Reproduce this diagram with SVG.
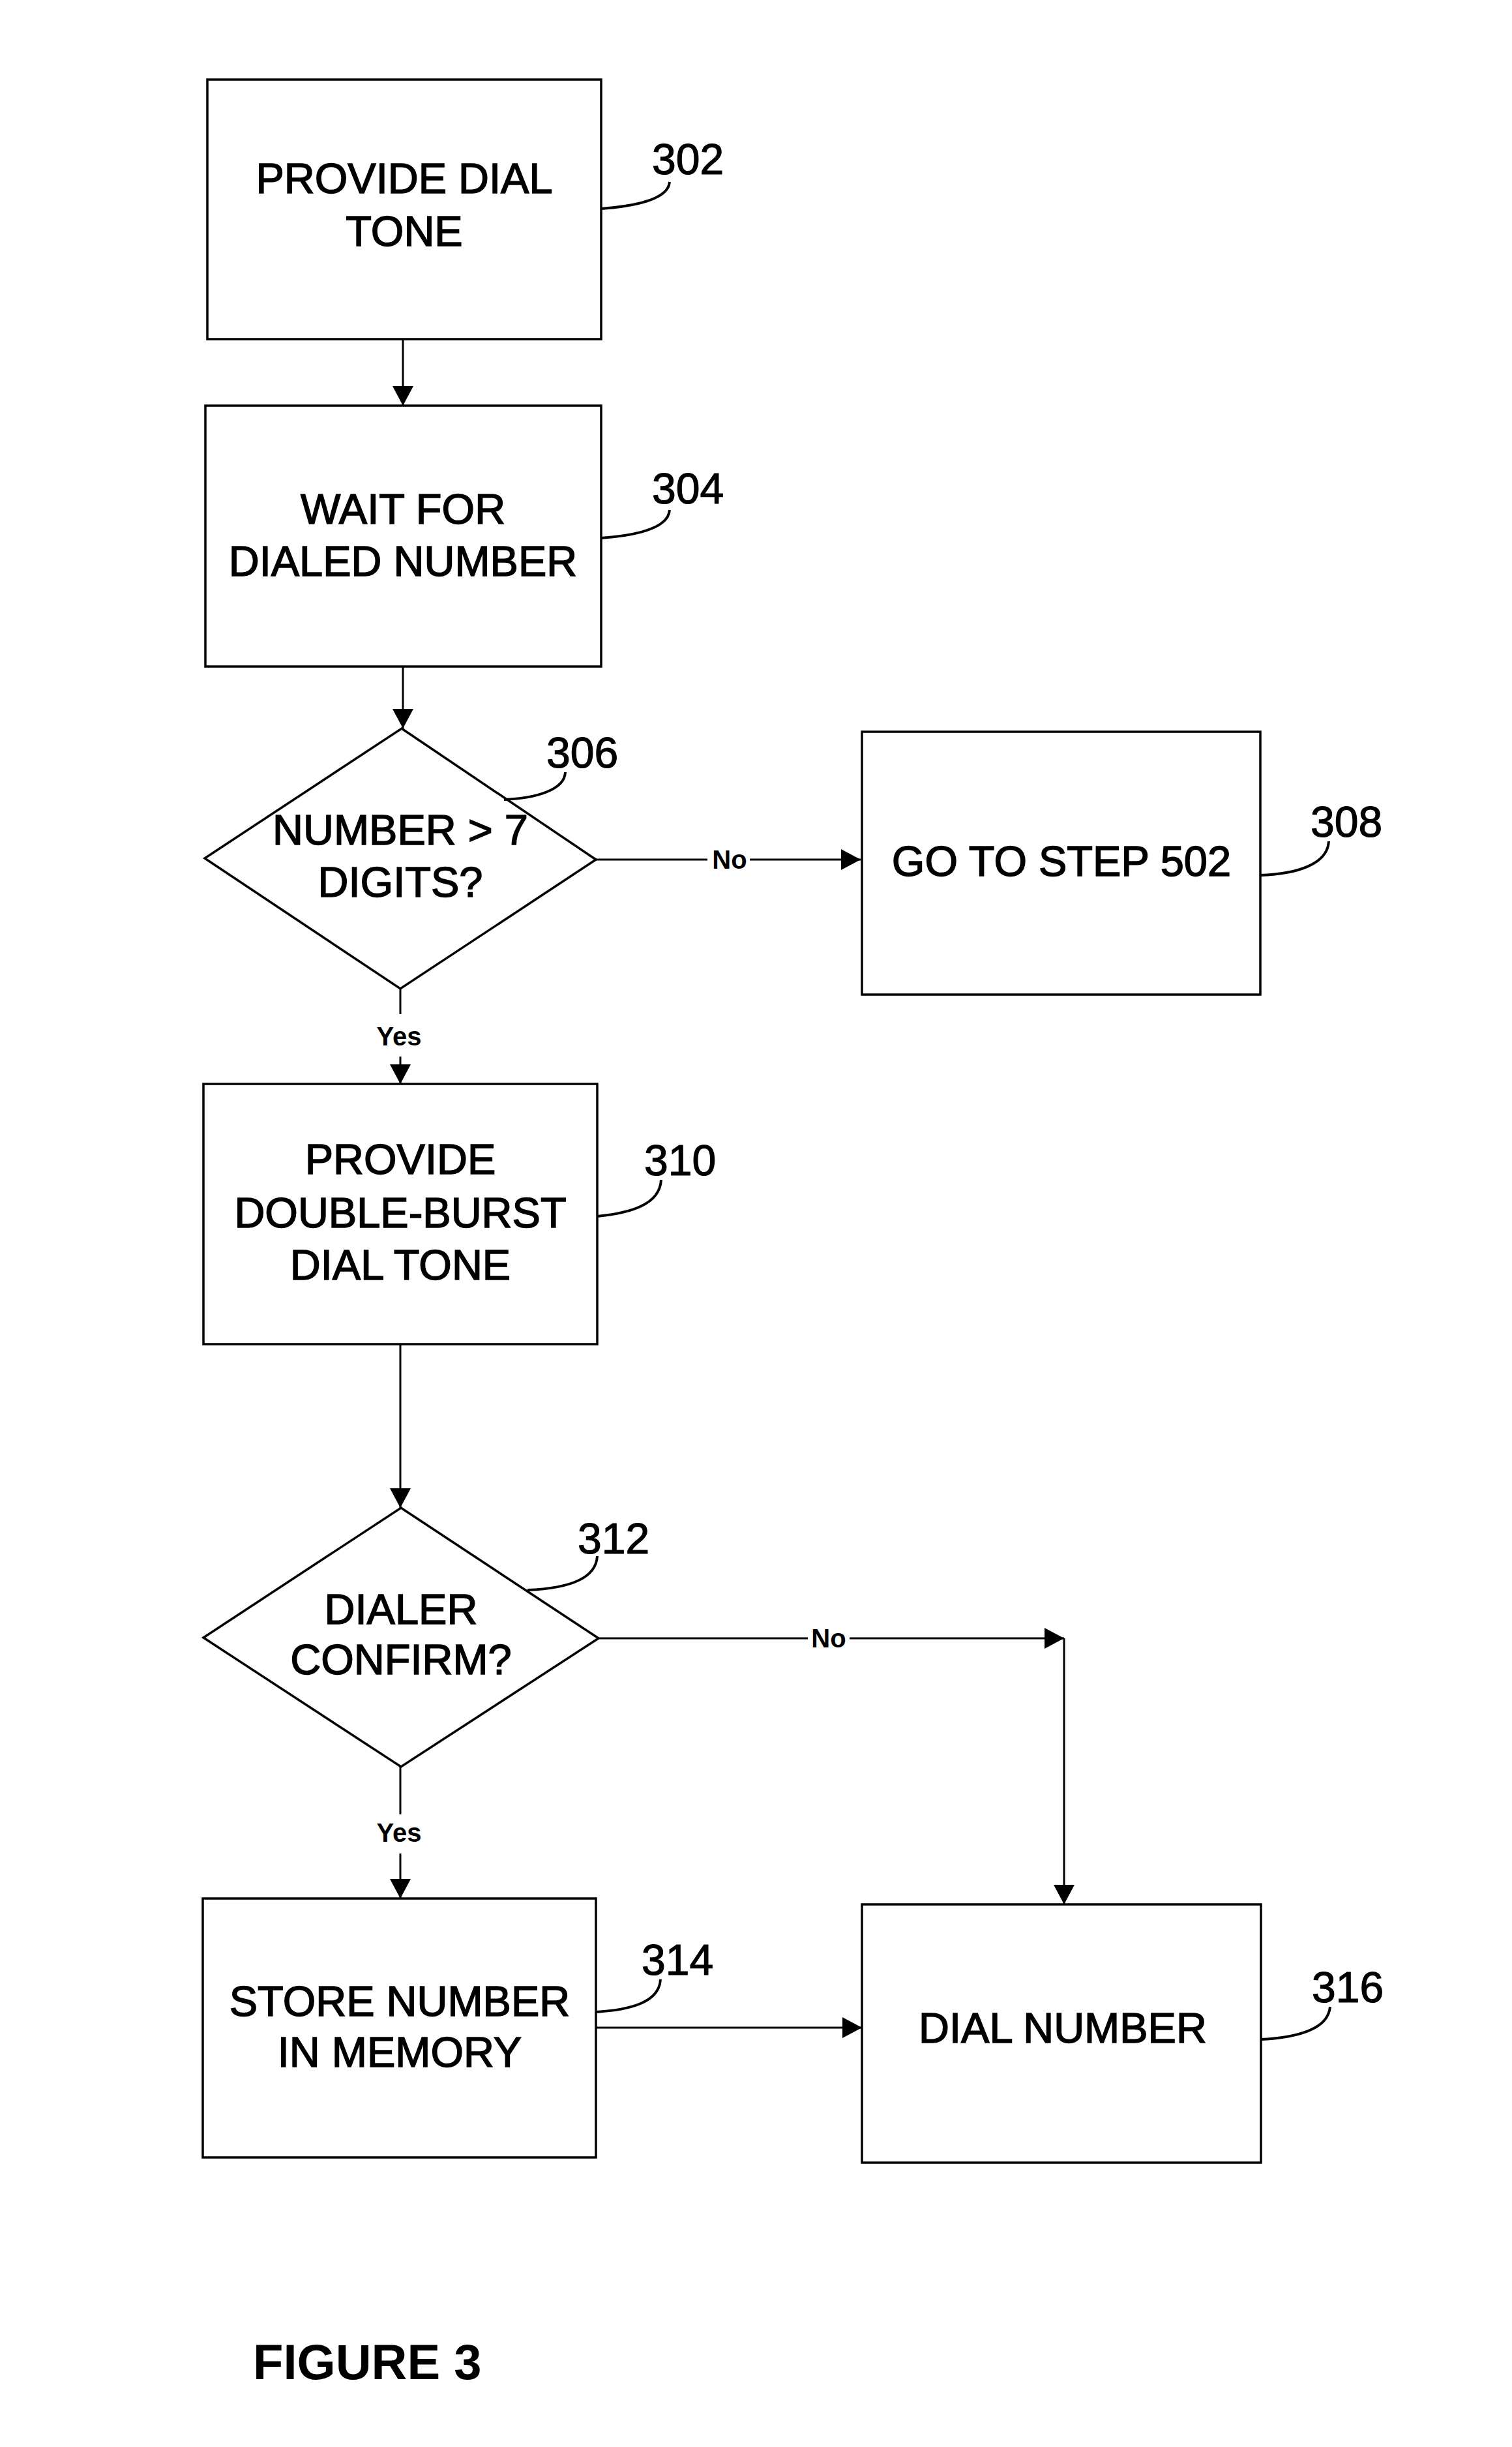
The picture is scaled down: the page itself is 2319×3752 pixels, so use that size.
<svg xmlns="http://www.w3.org/2000/svg" width="2319" height="3752" viewBox="0 0 2319 3752">
<style>
.shape{fill:#fff;stroke:#000;stroke-width:3.5}
.t{font-family:"Liberation Sans",Arial,sans-serif;font-size:65px;fill:#000;stroke:#000;stroke-width:1.5;text-anchor:middle}
.ref{font-family:"Liberation Sans",Arial,sans-serif;font-size:66px;fill:#000;stroke:#000;stroke-width:1.2}
.yn{font-family:"Liberation Sans",Arial,sans-serif;font-size:40px;font-weight:bold;fill:#000;text-anchor:middle}
.fig{font-family:"Liberation Sans",Arial,sans-serif;font-size:76px;font-weight:bold;fill:#000}
.c{fill:none;stroke:#000;stroke-width:3}
.lead{fill:none;stroke:#000;stroke-width:4}
</style>
<defs>
<marker id="ah" viewBox="0 0 30 32" refX="30" refY="16" markerWidth="30" markerHeight="32" markerUnits="userSpaceOnUse" orient="auto">
<path d="M0,0 L30,16 L0,32 z" fill="#000"/>
</marker>
</defs>
<rect width="2319" height="3752" fill="#fff"/>

<g id="connectors">
<path class="c" d="M618,520 V622" marker-end="url(#ah)"/>
<path class="c" d="M618,1022 V1117" marker-end="url(#ah)"/>
<path class="c" d="M914,1318 H1085"/>
<path class="c" d="M1150,1318 H1320" marker-end="url(#ah)"/>
<path class="c" d="M614,1516 V1555"/>
<path class="c" d="M614,1620 V1662" marker-end="url(#ah)"/>
<path class="c" d="M614,2061 V2312" marker-end="url(#ah)"/>
<path class="c" d="M918,2512 H1239"/>
<path class="c" d="M1303,2512 H1632" marker-end="url(#ah)"/>
<path class="c" d="M1632,2512 V2920" marker-end="url(#ah)"/>
<path class="c" d="M614,2707 V2782"/>
<path class="c" d="M614,2842 V2911" marker-end="url(#ah)"/>
<path class="c" d="M914,3109 H1322" marker-end="url(#ah)"/>
<text class="yn" x="1119" y="1332">No</text>
<text class="yn" x="612" y="1603">Yes</text>
<text class="yn" x="1271" y="2526">No</text>
<text class="yn" x="612" y="2824">Yes</text>
</g>

<g id="n302">
<rect class="shape" x="318" y="122" width="604" height="398"/>
<text class="t" x="620" y="296">PROVIDE DIAL</text>
<text class="t" x="620" y="377">TONE</text>
<path class="lead" d="M922,320 C975,316 1025,306 1027,279"/>
<text class="ref" x="1000" y="267">302</text>
</g>

<g id="n304">
<rect class="shape" x="315" y="622" width="607" height="400"/>
<text class="t" x="618" y="803">WAIT FOR</text>
<text class="t" x="618" y="883">DIALED NUMBER</text>
<path class="lead" d="M922,825 C975,821 1025,810 1027,782"/>
<text class="ref" x="1000" y="772">304</text>
</g>

<g id="n306">
<polygon class="shape" points="616,1117 914,1318 614,1516 314,1316"/>
<text class="t" x="614" y="1295">NUMBER &gt; 7</text>
<text class="t" x="614" y="1375">DIGITS?</text>
<path class="lead" d="M773,1226 C820,1224 866,1212 867,1184"/>
<text class="ref" x="838" y="1177">306</text>
</g>

<g id="n308">
<rect class="shape" x="1322" y="1122" width="611" height="403"/>
<text class="t" x="1628" y="1343">GO TO STEP 502</text>
<path class="lead" d="M1933,1342 C1990,1340 2036,1325 2038,1290"/>
<text class="ref" x="2010" y="1283">308</text>
</g>

<g id="n310">
<rect class="shape" x="312" y="1662" width="604" height="399"/>
<text class="t" x="614" y="1800">PROVIDE</text>
<text class="t" x="614" y="1882">DOUBLE-BURST</text>
<text class="t" x="614" y="1962">DIAL TONE</text>
<path class="lead" d="M916,1865 C965,1860 1012,1848 1014,1809"/>
<text class="ref" x="988" y="1802">310</text>
</g>

<g id="n312">
<polygon class="shape" points="615,2312 918,2512 615,2709 312,2511"/>
<text class="t" x="615" y="2490">DIALER</text>
<text class="t" x="615" y="2567">CONFIRM?</text>
<path class="lead" d="M809,2438 C860,2436 914,2425 916,2386"/>
<text class="ref" x="886" y="2382">312</text>
</g>

<g id="n314">
<rect class="shape" x="311" y="2911" width="603" height="397"/>
<text class="t" x="613" y="3091">STORE NUMBER</text>
<text class="t" x="613" y="3169">IN MEMORY</text>
<path class="lead" d="M914,3085 C962,3082 1011,3072 1013,3035"/>
<text class="ref" x="984" y="3028">314</text>
</g>

<g id="n316">
<rect class="shape" x="1322" y="2920" width="612" height="396"/>
<text class="t" x="1630" y="3132">DIAL NUMBER</text>
<path class="lead" d="M1934,3127 C1988,3124 2037,3112 2040,3077"/>
<text class="ref" x="2012" y="3070">316</text>
</g>

<text class="fig" x="388" y="3648">FIGURE 3</text>
</svg>
